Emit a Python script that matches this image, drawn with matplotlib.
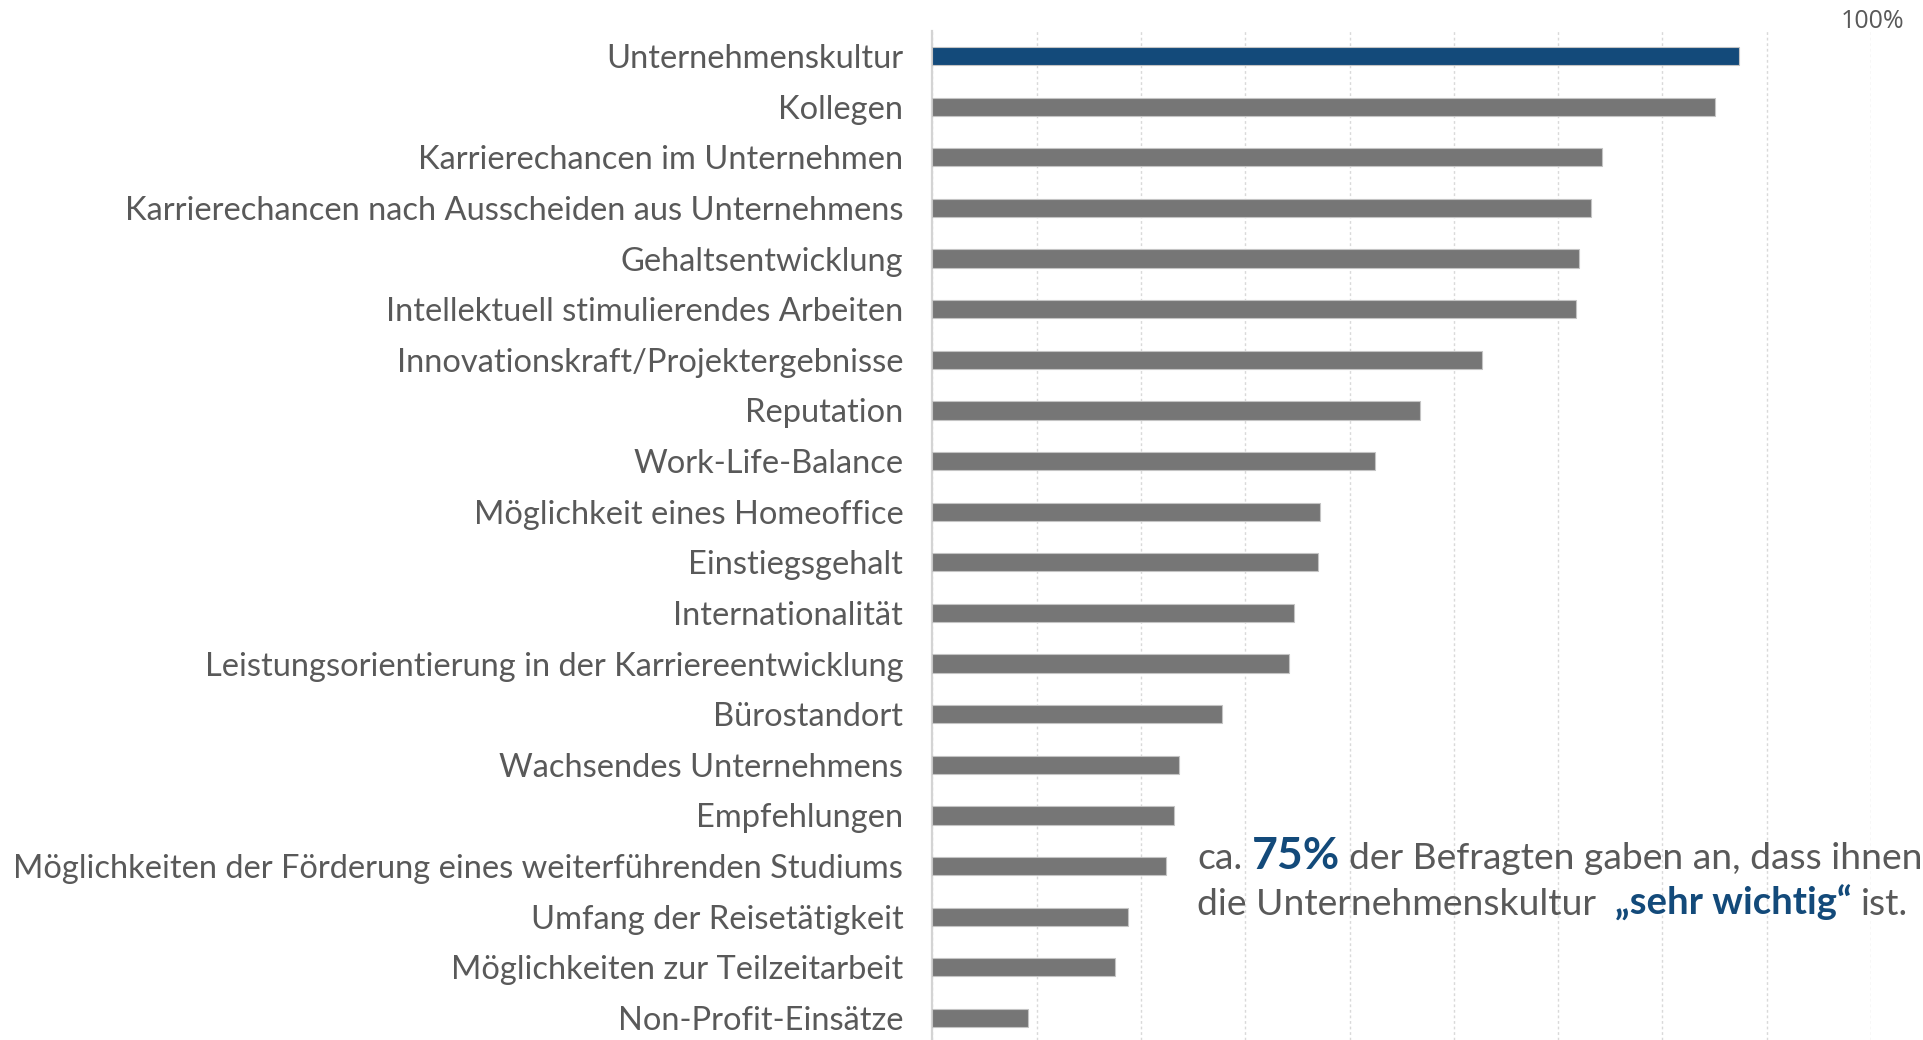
import matplotlib
matplotlib.use("Agg")
import matplotlib.pyplot as plt
import numpy as np

# Daten (Anteil in %, 100 = rechte Gitterlinie)
kategorien = [
    "Unternehmenskultur",
    "Kollegen",
    "Karrierechancen im Unternehmen",
    "Karrierechancen nach Ausscheiden aus Unternehmens",
    "Gehaltsentwicklung",
    "Intellektuell stimulierendes Arbeiten",
    "Innovationskraft/Projektergebnisse",
    "Reputation",
    "Work-Life-Balance",
    "Möglichkeit eines Homeoffice",
    "Einstiegsgehalt",
    "Internationalität",
    "Leistungsorientierung in der Karriereentwicklung",
    "Bürostandort",
    "Wachsendes Unternehmens",
    "Empfehlungen",
    "Möglichkeiten der Förderung eines weiterführenden Studiums",
    "Umfang der Reisetätigkeit",
    "Möglichkeiten zur Teilzeitarbeit",
    "Non-Profit-Einsätze",
]
werte = [85.9, 83.4, 71.3, 70.2, 68.9, 68.6, 58.6, 51.9, 47.1, 41.3,
         41.1, 38.5, 38.0, 30.9, 26.3, 25.7, 24.9, 20.8, 19.4, 10.2]
hervorheben = "Unternehmenskultur"

GRAU = "#767676"
BLAU = "#134a7a"
TEXT = "#595959"
SCHRIFT = ["Lato", "DejaVu Sans"]

W, H = 1924, 1040
fig = plt.figure(figsize=(W / 100, H / 100), dpi=100)
ax = fig.add_axes([932.5 / W, 0, (1871 - 932.5) / W, (H - 30.7) / H])

y = np.arange(len(kategorien))
farben = [BLAU if k == hervorheben else GRAU for k in kategorien]
ax.barh(y, werte, height=0.36, color=farben, edgecolor="#c4c4c4",
        linewidth=0.8, zorder=3)

ax.set_xlim(0, 100)
ax.set_ylim(19.435, -0.5)
ax.set_yticks(y)
ax.set_yticklabels(kategorien, fontsize=23.5, color=TEXT, family=SCHRIFT)
ax.tick_params(axis="y", length=0, pad=21)
ax.set_xticks(np.linspace(0, 100, 10))
ax.tick_params(axis="x", length=0, labelbottom=False)
ax.grid(axis="x", linestyle=(0, (2, 2)), color="#d9d9d9", linewidth=1, zorder=0)
for s in ["top", "right", "bottom"]:
    ax.spines[s].set_visible(False)
ax.spines["left"].set_color("#d4d4d4")
ax.spines["left"].set_linewidth(1.6)

fig.text(1873 / W, 1 - 22 / H, "100%", ha="center", va="center", fontsize=18,
         color=TEXT, family=["Open Sans", "DejaVu Sans"])

# Hinweistext aus mehreren Teilen
fig.canvas.draw()
renderer = fig.canvas.get_renderer()


def breite(txt, **kw):
    t = fig.text(0, 0, txt, **kw)
    b = t.get_window_extent(renderer).width
    t.remove()
    return b


def zeile(x0, yb, teile):
    x = x0
    for txt, kw in teile:
        if txt == " ":
            x += breite("a a", **kw) - breite("aa", **kw)
            continue
        t = fig.text(x / W, 1 - yb / H, txt, ha="left", va="baseline", **kw)
        x += t.get_window_extent(renderer).width


normal = dict(fontsize=26.8, color=TEXT, family=SCHRIFT)
fett = dict(fontsize=27.5, color=BLAU, family=SCHRIFT, fontweight="bold")
gross = dict(fontsize=32, color=BLAU, family=SCHRIFT, fontweight="bold")

zeile(1197, 869, [("ca.", normal), (" ", normal), ("75%", gross), (" ", normal),
                  ("der Befragten gaben an, dass ihnen", normal)])
zeile(1197, 915, [("die Unternehmenskultur", normal), (" ", normal), (" ", normal),
                  ("\u201esehr wichtig\u201c", fett), (" ", normal), ("ist.", normal)])

fig.savefig("out.png", dpi=100)
